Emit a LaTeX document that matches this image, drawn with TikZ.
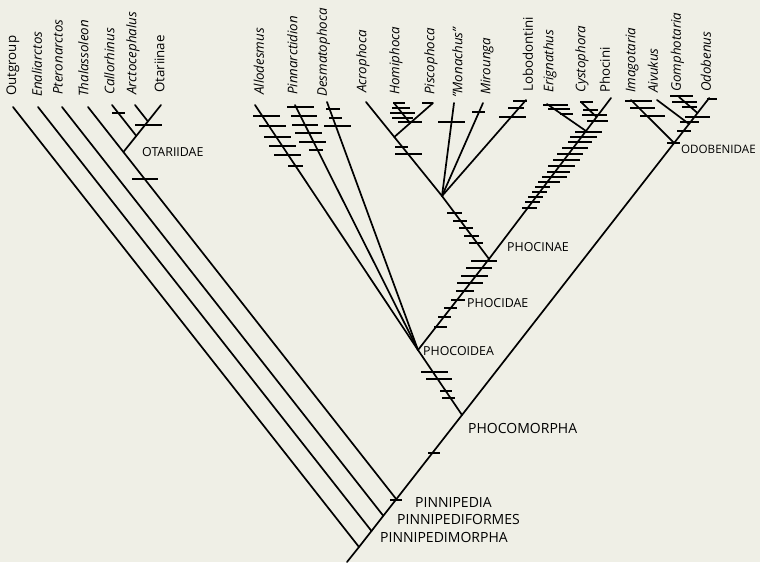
\documentclass[tikz,border=0pt]{standalone}
\usepackage{fontspec}
\setmainfont{Open Sans}
\definecolor{bgc}{RGB}{239,239,230}
\newcommand\tk[3]{\draw[tickmark] (#1,#3) -- (#2,#3);}
\begin{document}
\begin{tikzpicture}[x=1pt,y=-1pt,
  br/.style={line width=1.7pt,line cap=round},
  tickmark/.style={line width=2.8pt},
  taxon/.style={rotate=90,anchor=west,inner sep=0pt,font=\fontsize{13.3}{15}\selectfont\itshape},
  taxonup/.style={taxon,font=\fontsize{13.3}{15}\selectfont},
  clade/.style={anchor=west,inner sep=0pt,font=\fontsize{12.4}{14}\selectfont},
  bigclade/.style={anchor=west,inner sep=0pt,font=\fontsize{14}{16}\selectfont}]
\fill[bgc] (0,0) rectangle (760,562);
\useasboundingbox (0,0) rectangle (760,562);
% --- coordinates: spine
\coordinate (base) at (347,562);
\coordinate (root) at (359,547);
\coordinate (pmor) at (371.5,531);
\coordinate (pfor) at (383.3,515.8);
\coordinate (pped) at (396.3,499.2);
\coordinate (phmo) at (462,415);
\coordinate (odbn) at (674.1,143);
\coordinate (aivj) at (689,124);
\coordinate (gomj) at (697.5,113);
% tips
\coordinate (tOut) at (13,107);
\coordinate (tEna) at (38,107);
\coordinate (tPte) at (62,107);
\coordinate (tTha) at (88,107);
\coordinate (tCal) at (112,105);
\coordinate (tArc) at (135,105);
\coordinate (tOta) at (161,105);
\coordinate (otar) at (123.4,152);
\coordinate (jArc) at (147.9,121.4);
\coordinate (jCal) at (136.3,135.9);
\coordinate (tAll) at (255,105);
\coordinate (tPin) at (295,105);
\coordinate (tDes) at (327,102);
\coordinate (phoc) at (418,350);
\coordinate (phin) at (489,259);
\coordinate (mona) at (442,196);
\coordinate (tAcr) at (366,102);
\coordinate (hpnd) at (394.3,137);
\coordinate (tHom) at (394,103);
\coordinate (tPis) at (433,103);
\coordinate (jHom) at (410.1,123.1);
\coordinate (tMon) at (454,103);
\coordinate (tMir) at (483,103);
\coordinate (tLob) at (526,100);
\coordinate (tEri) at (547,104);
\coordinate (jEri) at (586,131);
\coordinate (tCys) at (581,102);
\coordinate (jCys) at (596.6,117);
\coordinate (tPhn) at (611,98);
\coordinate (tIma) at (631,100);
\coordinate (tAiv) at (657,100);
\coordinate (tGom) at (679,97);
\coordinate (tOdo) at (709.2,98);
% --- branches
\draw[br] (base) -- (root) -- (pmor) -- (pfor) -- (pped) -- (phmo) -- (odbn) -- (aivj) -- (gomj) -- (tOdo);
\draw[br] (tOut) -- (root);
\draw[br] (tEna) -- (pmor);
\draw[br] (tPte) -- (pfor);
\draw[br] (tTha) -- (otar) -- (pped);
\draw[br] (tOta) -- (jArc) -- (jCal) -- (otar);
\draw[br] (tArc) -- (jArc);
\draw[br] (tCal) -- (jCal);
\draw[br] (phmo) -- (phoc);
\draw[br] (tAll) -- (phoc);
\draw[br] (tPin) -- (phoc);
\draw[br] (tDes) -- (phoc);
\draw[br] (phoc) -- (phin) -- (mona);
\draw[br] (tAcr) -- (hpnd) -- (mona);
\draw[br] (tPis) -- (jHom) -- (hpnd);
\draw[br] (tHom) -- (jHom);
\draw[br] (tMon) -- (mona);
\draw[br] (tMir) -- (mona);
\draw[br] (tLob) -- (mona);
\draw[br] (phin) -- (jEri) -- (jCys) -- (tPhn);
\draw[br] (tEri) -- (jEri);
\draw[br] (tCys) -- (jCys);
\draw[br] (tIma) -- (odbn);
\draw[br] (tAiv) -- (aivj);
\draw[br] (tGom) -- (gomj);
% --- ticks
\tk{112}{125}{113}\tk{135}{162}{125}\tk{132}{158}{179}
\tk{253}{280}{116}\tk{259}{286}{126}\tk{264}{291}{137}\tk{269}{296}{146}\tk{274}{301}{155}\tk{288}{303}{166}
\tk{287}{314}{107}\tk{291}{317}{116}\tk{292}{318}{125}\tk{295}{322}{133}\tk{299}{326}{142}\tk{309}{323}{150}
\tk{326}{340}{109}\tk{329}{342}{118}\tk{324}{351}{126}
\tk{393}{405}{103}\tk{392}{410}{108}\tk{390}{415}{113}\tk{392}{413}{118}\tk{398}{422}{122}\tk{422}{433}{103}
\tk{395}{408}{147}\tk{395}{422}{154}
\tk{438}{465}{122}
\tk{472}{485}{112}
\tk{513}{527}{101}\tk{508}{524}{108}\tk{499}{526}{117}
\tk{543}{568}{105}\tk{548}{570}{109}\tk{560}{573}{114}
\tk{580}{593}{102}\tk{583}{598}{110}\tk{582}{607}{115}\tk{587}{608}{121}
\tk{575}{602}{132}\tk{570}{597}{137}\tk{568}{592}{142}\tk{562}{588}{148}\tk{557}{583}{154}
\tk{553}{580}{160}\tk{548}{575}{166}\tk{547}{570}{172}\tk{542}{567}{177}\tk{538}{560}{182}
\tk{535}{550}{187}\tk{532}{547}{192}\tk{528}{543}{197}\tk{525}{540}{202}\tk{522}{537}{208}
\tk{447}{462}{213}\tk{453}{467}{221}\tk{459}{473}{228}\tk{464}{479}{236}\tk{469}{483}{243}
\tk{471}{497}{261}\tk{466}{492}{268}\tk{461}{488}{276}\tk{457}{483}{283}\tk{456}{474}{291}
\tk{451}{465}{300}\tk{444}{457}{308}\tk{438}{451}{317}\tk{434}{447}{327}
\tk{421}{448}{372}\tk{426}{452}{379}\tk{440}{452}{391}\tk{442}{455}{398}
\tk{428}{440}{453}
\tk{390}{402}{500}
\tk{625}{652}{101}\tk{630}{655}{108}\tk{640}{665}{116}
\tk{670}{693}{96}\tk{672}{697}{102}\tk{682}{697}{107}
\tk{707}{717}{99}
\tk{685}{710}{117}\tk{680}{699}{122}\tk{677}{691}{131}\tk{667}{680}{143}
% --- taxon labels
\node[taxonup] (lOut) at (13,96) {Outgroup};
\node[taxon] (lEna) at (37,97) {Enaliarctos};
\node[taxon] (lPte) at (58,95) {Pteronarctos};
\node[taxon] (lTha) at (83.5,97) {Thalassoleon};
\node[taxon] (lCal) at (109.5,95) {Callorhinus};
\node[taxon] (lArc) at (133,95) {Arctocephalus};
\node[taxonup] (lOta) at (159.5,93) {Otariinae};
\node[taxon] (lAll) at (259,95) {Allodesmus};
\node[taxon] (lPin) at (292.5,95) {Pinnarctidion};
\node[taxon] (lDes) at (323.5,97) {Desmatophoca};
\node[taxon] (lAcr) at (363,93) {Acrophoca};
\node[taxon] (lHom) at (396,95) {Homiphoca};
\node[taxon] (lPis) at (431,95) {Piscophoca};
\node[taxon] (lMon) at (457.5,98) {"Monachus"};
\node[taxon] (lMir) at (487,95) {Mirounga};
\node[taxonup] (lLob) at (528,92) {Lobodontini};
\node[taxon] (lEri) at (550,93) {Erignathus};
\node[taxon] (lCys) at (582,93) {Cystophora};
\node[taxonup] (lPhn) at (605,93) {Phocini};
\node[taxon] (lIma) at (632,93) {Imagotaria};
\node[taxon] (lAiv) at (653,93) {Aivukus};
\node[taxon] (lGom) at (677.5,92) {Gomphotaria};
\node[taxon] (lOdo) at (706,92) {Odobenus};
% --- clade labels
\node[clade] (cOta) at (142,152) {OTARIIDAE};
\node[clade] (cPhd) at (423,351) {PHOCOIDEA};
\node[clade] (cPcd) at (467,303) {PHOCIDAE};
\node[clade] (cPcn) at (507,247) {PHOCINAE};
\node[clade,font=\fontsize{11.6}{14}\selectfont] (cOdo) at (681,149) {ODOBENIDAE};
\node[bigclade] (cPmo) at (468,428) {PHOCOMORPHA};
\node[bigclade] (cPpe) at (415,502) {PINNIPEDIA};
\node[bigclade] (cPfo) at (397,519) {PINNIPEDIFORMES};
\node[bigclade] (cPmr) at (380,537) {PINNIPEDIMORPHA};
\end{tikzpicture}
\end{document}
